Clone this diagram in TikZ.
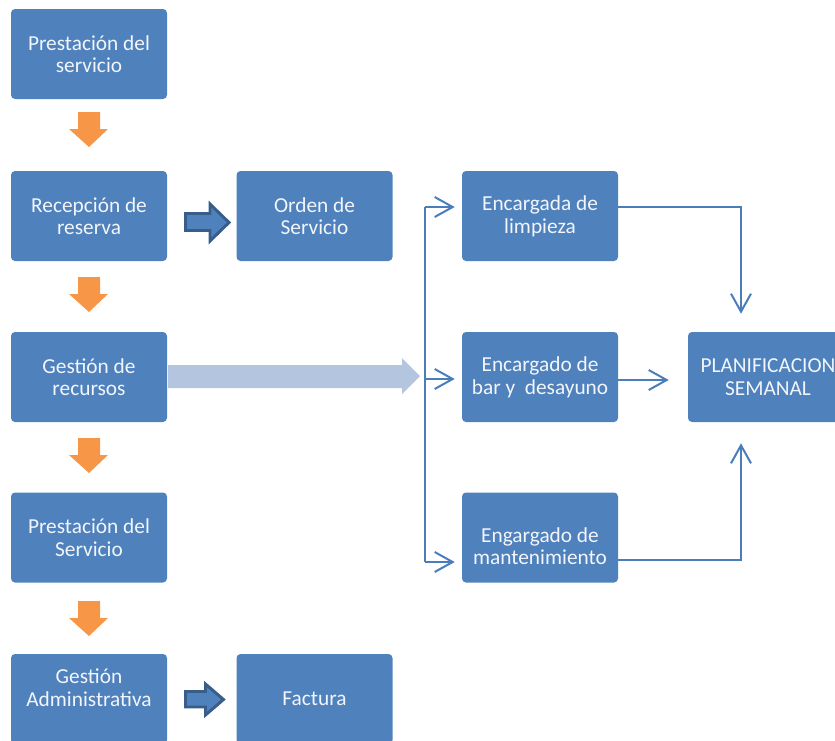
\documentclass[tikz,border=0pt]{standalone}
\usepackage{fontspec}
\setmainfont{Carlito}
\usetikzlibrary{arrows.meta,calc}
\definecolor{boxblue}{HTML}{4F81BD}
\definecolor{lineblue}{HTML}{4A7EBB}
\definecolor{orangefill}{HTML}{F79646}
\definecolor{darkedge}{HTML}{385D8A}
\definecolor{lightarrow}{HTML}{B4C5E0}
\definecolor{boxtext}{HTML}{F2F5FA}
\tikzset{
  procbox/.style={rectangle, rounded corners=3pt, fill=boxblue, minimum width=117pt,
    minimum height=67.5pt, inner sep=0pt, text=boxtext, align=center,
    font=\fontsize{16}{17}\selectfont},
  conn/.style={draw=lineblue, line width=1.5pt},
  vtip/.style={-{Straight Barb[length=13.5pt,width=15pt,line width=1.5pt]}},
  orangearrow/.style={fill=orangefill},
  darkarrow/.style={fill=boxblue, draw=darkedge, line width=2.2pt, line join=miter},
  lightblock/.style={fill=lightarrow}
}
\begin{document}
\begin{tikzpicture}[x=0.75pt,y=-0.75pt]
\useasboundingbox (0,0) rectangle (835,740);
\clip (0,0) rectangle (835,740);

% left column
\node[procbox] (p1) at (89,54) {Prestación del\\servicio};
\node[procbox] (rec) at (89,216) {Recepción de\\reserva};
\node[procbox] (ges) at (89,377) {Gestión de\\recursos};
\node[procbox] (pre2) at (89,537.5) {Prestación del\\Servicio};
\node[procbox] (adm) at (89,699) {Gestión\\Administrativa\\\mbox{}};

% second column
\node[procbox] (ord) at (314.5,216) {Orden de\\Servicio};
\node[procbox] (fac) at (314.5,699) {Factura};

% third column
\node[procbox] (limp) at (540,216) {Encargada de\\limpieza};
\node[procbox] (bar) at (540,377) {Encargado de\\bar y\ \ desayuno};
\node[procbox] (mant) at (540,537.5) {\strut\\Engargado de\\mantenimiento\strut};

% planning
\node[procbox, minimum width=120pt] (plan) at (768,377) {PLANIFICACION\\SEMANAL};

% orange arrows
\fill[orangearrow] (78,112) -- (100,112) -- (100,129) -- (108,129) -- (89,147) -- (69,129) -- (78,129) -- cycle;
\fill[orangearrow] (78,277) -- (100,277) -- (100,294) -- (108,294) -- (89,312) -- (69,294) -- (78,294) -- cycle;
\fill[orangearrow] (78,438) -- (100,438) -- (100,455) -- (108,455) -- (89,473) -- (69,455) -- (78,455) -- cycle;
\fill[orangearrow] (78,601) -- (100,601) -- (100,618) -- (108,618) -- (89,636) -- (69,618) -- (78,618) -- cycle;

% dark arrows
\draw[darkarrow] (185.5,213.5) -- (210,213.5) -- (210,204) -- (229,222.5) -- (210,241) -- (210,230.5) -- (185.5,230.5) -- cycle;
\draw[darkarrow] (185.5,691.5) -- (205.5,691.5) -- (205.5,684) -- (223.5,699.5) -- (205.5,715) -- (205.5,707) -- (185.5,707) -- cycle;

% light block arrow
\fill[lightblock] (168,365) -- (402,365) -- (402,358) -- (420,376) -- (402,394) -- (402,388) -- (168,388) -- cycle;

% bracket
\coordinate (brT) at (425,207);
\coordinate (brM) at (425,379);
\coordinate (brB) at (425,562);
\coordinate (cx) at (741,0);
\draw[conn] (brT) -- (brB);
\draw[conn, vtip, shorten >=5.25pt] (brT) -- (limp.west |- brT);
\draw[conn, vtip, shorten >=5.25pt] (brM) -- (bar.west |- brM);
\draw[conn, vtip, shorten >=5.25pt] (brB) -- (mant.west |- brB);

% to planning
\coordinate (rT) at (0,207);
\coordinate (rM) at (0,380);
\coordinate (rB) at (0,560);
\draw[conn, vtip, shorten >=13.5pt] (limp.east |- rT) -| (plan.north -| cx);
\draw[conn, vtip, shorten >=14.25pt] (bar.east |- rM) -- (plan.west |- rM);
\draw[conn, vtip, shorten >=15.75pt] (mant.east |- rB) -| (plan.south -| cx);
\end{tikzpicture}
\end{document}
